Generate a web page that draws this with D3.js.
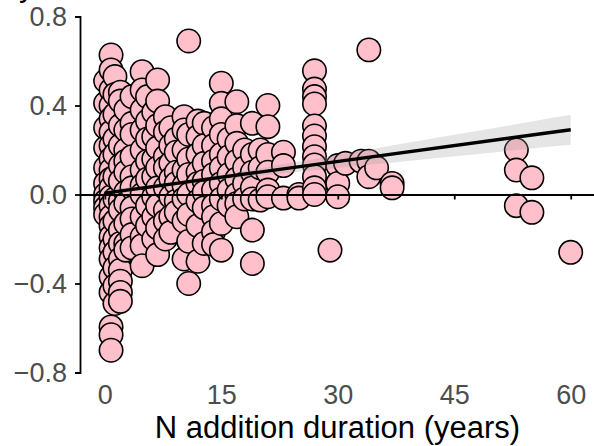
<!DOCTYPE html>
<html>
<head>
<meta charset="utf-8">
<script src="https://cdn.jsdelivr.net/npm/d3@7"></script>
<style>
  html, body { margin: 0; padding: 0; background: #fff; }
  svg { display: block; font-family: "Liberation Sans", Arial, sans-serif; }
</style>
</head>
<body>
<div id="chart"></div>
<script>
// Effect size vs. N addition duration: each duration column with its observed effects
const durations = [0.1, 0.8, 1.3, 2, 2.7, 3.5, 4.8, 5.5, 6.3, 6.8, 7.8, 8.5, 9.2, 10.2, 10.8,
  12, 12.8, 14, 15, 16, 17, 18, 19, 20, 21, 23, 25, 27, 29, 30, 31, 33, 34, 35, 37, 53, 55, 60];

const effects = [
  [0.51, 0.41, 0.30, 0.21, 0.12, 0.05, 0.0, -0.03, -0.06, -0.09],
  [0.627, 0.56, 0.47, 0.40, 0.34, 0.28, 0.22, 0.16, 0.11, 0.07, 0.03, -0.01, -0.05, -0.10, -0.14, -0.19, -0.24, -0.29, -0.37, -0.44, -0.595, -0.63, -0.70],
  [0.53, 0.45, 0.36, 0.25, 0.18, 0.08, -0.02, -0.12, -0.20, -0.26, -0.33, -0.41, -0.49],
  [0.46, 0.42, 0.31, 0.22, 0.13, 0.06, -0.03, -0.07, -0.16, -0.22, -0.29, -0.34, -0.39, -0.44, -0.48],
  [0.38, 0.29, 0.20, 0.15, 0.10, 0.01, -0.04, -0.13, -0.22, -0.25],
  [0.44, 0.32, 0.27, 0.17, 0.08, 0.03, -0.06, -0.11, -0.18, -0.24],
  [0.552, 0.47, 0.38, 0.29, 0.20, 0.11, 0.04, 0.0, -0.10, -0.19, -0.23, -0.32],
  [0.44, 0.33, 0.25, 0.15, 0.07, -0.05, -0.14],
  [0.37, 0.26, 0.16, 0.08, -0.01, -0.10, -0.20],
  [0.515, 0.42, 0.31, 0.21, 0.12, 0.03, -0.05, -0.15, -0.27],
  [0.35, 0.28, 0.17, 0.12, 0.03, -0.07, -0.12, -0.20],
  [0.30, 0.22, 0.14, 0.07, -0.01, -0.10, -0.17],
  [0.25, 0.19, 0.10, 0.05, -0.03, -0.08],
  [0.35, 0.29, 0.20, 0.11, 0.04, -0.02, -0.12, -0.29],
  [0.69, 0.27, 0.16, 0.09, 0.0, -0.09, -0.21, -0.40],
  [0.33, 0.26, 0.18, 0.10, 0.05, -0.03, -0.14, -0.30],
  [0.32, 0.22, 0.14, 0.06, 0.01, -0.06, -0.22],
  [0.30, 0.22, 0.15, 0.09, 0.02, -0.05, -0.10, -0.167, -0.225],
  [0.50, 0.41, 0.34, 0.27, 0.18, 0.12, 0.05, -0.02, -0.13, -0.25],
  [0.25, 0.17, 0.09, 0.02, -0.05],
  [0.417, 0.31, 0.23, 0.15, 0.07, 0.0, -0.04, -0.10],
  [0.20, 0.12, 0.05, -0.02],
  [0.32, 0.18, 0.10, 0.03, -0.02, -0.16, -0.31],
  [0.20, 0.12, -0.025],
  [0.40, 0.305, 0.18, 0.10, 0.02, -0.01],
  [0.19, 0.13, -0.016],
  [0.0, -0.016],
  [0.556, 0.474, 0.44, 0.407, 0.308, 0.263, 0.215, 0.17, 0.133, 0.08, 0.03, 0.0],
  [-0.25],
  [0.13, 0.05, -0.01],
  [0.14],
  [0.15],
  [0.65, 0.15, 0.08],
  [0.12],
  [0.05, 0.03],
  [0.20, 0.11, -0.05],
  [0.075, -0.08],
  [-0.26]
];

// Linear fit and its 95% confidence band
const fitX = [0, 60];
const fitY = [0.006, 0.291];
const bandX = [0, 5, 10, 15, 20, 25, 30, 35, 40, 45, 50, 55, 60];
const bandLo = [-0.007, 0.021, 0.045, 0.065, 0.084, 0.102, 0.119, 0.137, 0.154, 0.172, 0.189, 0.207, 0.224];
const bandHi = [0.019, 0.039, 0.062, 0.089, 0.118, 0.148, 0.178, 0.208, 0.238, 0.268, 0.298, 0.328, 0.358];

const xTicks = [0, 15, 30, 45, 60];
const yTicks = [-0.8, -0.4, 0, 0.4, 0.8];
const xTitle = "N addition duration (years)";

const W = 594, H = 446;
const svg = d3.select("#chart").append("svg").attr("width", W).attr("height", H);

const x = d3.scaleLinear().domain([-3.2, 63]).range([80, 594]);
const y = d3.scaleLinear().domain([-0.8, 0.8]).range([372.5, 16.5]);

const points = [];
durations.forEach((d, i) => effects[i].forEach(v => points.push({ d, v })));

// Observations
svg.append("g").selectAll("circle").data(points).join("circle")
  .attr("cx", p => x(p.d))
  .attr("cy", p => y(p.v))
  .attr("r", 11.7)
  .attr("fill", "#FFC0CB")
  .attr("stroke", "#000")
  .attr("stroke-width", 1.6);

// Confidence band
const band = bandX.map((bx, i) => ({ bx, lo: bandLo[i], hi: bandHi[i] }));
svg.append("path").datum(band)
  .attr("d", d3.area().x(b => x(b.bx)).y0(b => y(b.lo)).y1(b => y(b.hi)).curve(d3.curveMonotoneX))
  .attr("fill", "#999999")
  .attr("fill-opacity", 0.25);

// Regression line
svg.append("path").datum(fitX.map((fx, i) => [fx, fitY[i]]))
  .attr("d", d3.line().x(p => x(p[0])).y(p => y(p[1])))
  .attr("fill", "none")
  .attr("stroke", "#000")
  .attr("stroke-width", 3.4);

// Y axis
const yAxis = svg.append("g").attr("transform", "translate(80,0)")
  .call(d3.axisLeft(y).tickValues(yTicks).tickFormat(d3.format(".1f")).tickSize(5).tickPadding(8));

// Zero line carrying the x ticks
const xLine = svg.append("g").attr("transform", `translate(0,${y(0)})`)
  .call(d3.axisBottom(x).tickValues(xTicks).tickFormat("").tickSize(5).tickSizeOuter(0));

// X tick labels along the bottom
const xLabels = svg.append("g").attr("transform", `translate(0,${y(-0.8)})`)
  .call(d3.axisBottom(x).tickValues(xTicks).tickSize(0).tickPadding(12));
xLabels.select(".domain").remove();

[yAxis, xLine, xLabels].forEach(g => {
  g.selectAll(".domain, .tick line").attr("stroke", "#000").attr("stroke-width", 1.8);
  g.selectAll("text").attr("fill", "#4D4D4D").attr("font-size", 27)
    .attr("font-family", "'Liberation Sans', Arial, sans-serif");
});

// Axis title
svg.append("text")
  .attr("x", 337.5).attr("y", 438)
  .attr("text-anchor", "middle")
  .attr("font-size", 31)
  .attr("fill", "#000")
  .text(xTitle);

// Panel label descending from above the frame
svg.append("text")
  .attr("x", 19).attr("y", -4)
  .attr("font-size", 31)
  .attr("fill", "#000")
  .text("y");
</script>
</body>
</html>
